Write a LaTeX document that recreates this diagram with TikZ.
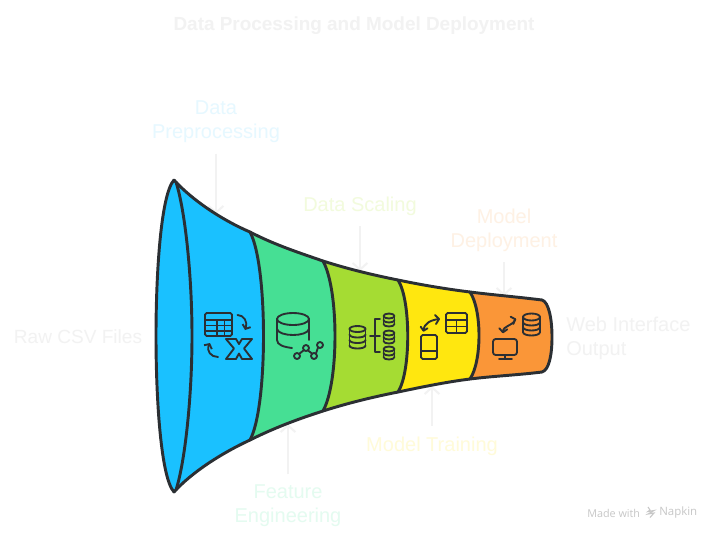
\documentclass[tikz,border=0pt]{standalone}
\usepackage{fontspec}
\setmainfont{Liberation Sans}
\newfontfamily\wmfont{Open Sans}
\usetikzlibrary{arrows.meta}
\definecolor{cBlue}{HTML}{1AC1FF}
\definecolor{cGreen}{HTML}{46DF94}
\definecolor{cLime}{HTML}{A5DC33}
\definecolor{cYellow}{HTML}{FFE70F}
\definecolor{cOrange}{HTML}{FA9638}
\definecolor{cInk}{HTML}{2B2F33}
\definecolor{cConn}{HTML}{F2F2F2}
\definecolor{tBlue}{HTML}{E6F8FF}
\definecolor{tGreen}{HTML}{E4FBF0}
\definecolor{tLime}{HTML}{F2FBDD}
\definecolor{tYellow}{HTML}{FFFBD9}
\definecolor{tOrange}{HTML}{FEF1E4}
\tikzset{
  outline/.style={draw=cInk,line width=2.2pt,line join=round,line cap=round},
  iconline/.style={draw=cInk,line width=1.4pt,line join=round,line cap=round},
  iconarrow/.style={iconline,-{Straight Barb[length=2.6pt,width=6.5pt,line width=1.4pt]}},
  conn/.style={draw=cConn,line width=1.5pt,shorten <=8pt,-{Straight Barb[length=5pt,width=11pt,line width=1.5pt]}},
  lbl/.style={inner sep=0pt,font=\fontsize{15}{18}\selectfont,align=center},
}
% icon: stacked database; args: cx, top y, rx, ry, band height, bands
\newcommand{\dbstack}[6]{%
  \draw[iconline] (#1,#2) ellipse [x radius=#3,y radius=#4];
  \draw[iconline] ({#1-#3},#2) -- ++(0,{#5*#6});
  \draw[iconline] ({#1+#3},#2) -- ++(0,{#5*#6});
  \foreach \k in {1,...,#6}{
    \draw[iconline] ({#1-#3},{#2+#5*\k}) .. controls ({#1-#3},{#2+#5*\k+1.33*#4}) and ({#1+#3},{#2+#5*\k+1.33*#4}) .. ({#1+#3},{#2+#5*\k});
  }%
}
\begin{document}
\begin{tikzpicture}[x=0.75pt,y=-0.75pt]
\path[fill=white,use as bounding box] (0,0) rectangle (720,540);

% labels
\node[font=\fontsize{14.2}{17}\selectfont\bfseries,text=cConn,inner sep=0pt] (title) at (354,26) {Data Processing and Model Deployment};
\node[lbl,font=\fontsize{14.3}{18}\selectfont,text=cConn] (raw) at (78,337) {Raw CSV Files};
\node[lbl,text=tBlue] (prep) at (216,122) {Data\\Preprocessing};
\node[lbl,text=tGreen] (feat) at (288,506) {Feature\\Engineering};
\node[lbl,text=tLime] (scal) at (360,206) {Data Scaling};
\node[lbl,text=tYellow] (train) at (432,446) {Model Training};
\node[lbl,text=tOrange] (depl) at (504,230) {Model\\Deployment};
\node[lbl,text=cConn,align=left,anchor=west] (web) at (566,338) {Web Interface\\Output};

% connectors
\coordinate (prepEnd) at (216,214);
\coordinate (featEnd) at (288,424);
\coordinate (scalEnd) at (360,271);
\coordinate (trainEnd) at (432,386);
\coordinate (deplEnd) at (504,296);
\draw[conn] (prep) -- (prepEnd);
\draw[conn] (feat) -- (featEnd);
\draw[conn] (scal) -- (scalEnd);
\draw[conn] (train) -- (trainEnd);
\draw[conn] (depl) -- (deplEnd);

% funnel fills, right to left
\fill[cOrange] (470,292) .. controls (494,295) and (518,297) .. (542,300)
  .. controls (549,302) and (552,320) .. (552,337)
  .. controls (552,355) and (549,370) .. (542,372)
  .. controls (518,375) and (494,376) .. (470,379) -- cycle;
\fill[cYellow] (398,280) .. controls (422,285) and (446,289) .. (470,292)
  .. controls (482,310) and (482,361) .. (470,379)
  .. controls (446,382) and (422,387) .. (398,392) -- cycle;
\fill[cLime] (323,261) .. controls (348,269) and (373,275) .. (398,280)
  .. controls (411,300) and (411,372) .. (398,392)
  .. controls (373,397) and (348,403) .. (323,411) -- cycle;
\fill[cGreen] (250,232) .. controls (275,245) and (300,253) .. (323,261)
  .. controls (339,290) and (339,382) .. (323,411)
  .. controls (298,419) and (274,428) .. (250,440) -- cycle;
\fill[cBlue] (174,180) .. controls (192,200) and (222,220) .. (250,232)
  .. controls (268,265) and (268,407) .. (250,440)
  .. controls (222,453) and (192,472) .. (174,492)
  .. controls (161,478) and (156,400) .. (156,336)
  .. controls (156,272) and (161,194) .. (174,180) -- cycle;

% funnel strokes
\draw[outline] (174,180) .. controls (192,200) and (222,220) .. (250,232)
  .. controls (275,245) and (300,253) .. (323,261)
  .. controls (348,269) and (373,275) .. (398,280)
  .. controls (422,285) and (446,289) .. (470,292)
  .. controls (494,295) and (518,297) .. (542,300)
  .. controls (549,302) and (552,320) .. (552,337)
  .. controls (552,355) and (549,370) .. (542,372)
  .. controls (518,375) and (494,376) .. (470,379)
  .. controls (446,382) and (422,387) .. (398,392)
  .. controls (373,397) and (348,403) .. (323,411)
  .. controls (298,419) and (274,428) .. (250,440)
  .. controls (222,453) and (192,472) .. (174,492)
  .. controls (161,478) and (156,400) .. (156,336)
  .. controls (156,272) and (161,194) .. (174,180);
\draw[outline] (176,182) .. controls (185,210) and (192,275) .. (192,336)
  .. controls (192,397) and (185,462) .. (176,490);
\draw[outline] (250,232) .. controls (268,265) and (268,407) .. (250,440);
\draw[outline] (323,261) .. controls (339,290) and (339,382) .. (323,411);
\draw[outline] (398,280) .. controls (411,300) and (411,372) .. (398,392);
\draw[outline] (470,292) .. controls (482,310) and (482,361) .. (470,379);

% icon: blue segment
\draw[iconline,rounded corners=1.2pt] (205,313) rectangle (232,336);
\draw[iconline] (205,320) -- (232,320) (205,325.5) -- (232,325.5) (205,331) -- (232,331) (217,320) -- (217,336) (224.5,320) -- (224.5,336);
\draw[iconarrow] (237.5,315) .. controls (244,315) and (248,322) .. (245,330);
\draw[iconarrow] (218,357) .. controls (211,357) and (206,351) .. (210,343);
\draw[iconline] (226,339) -- (236,339) -- (239,344) -- (242,339) -- (252,339) -- (244,348.5) -- (252,359) -- (242,359) -- (239,353.5) -- (236,359) -- (226,359) -- (234,348.5) -- cycle;

% icon: green segment
\draw[iconline] (293,319) ellipse [x radius=16,y radius=6];
\draw[iconline] (277,319) -- (277,340) .. controls (277,345) and (284,347) .. (292,348);
\draw[iconline] (309,319) -- (309,340);
\draw[iconline] (277,329) .. controls (279,337) and (307,337) .. (309,329);
\foreach \cx/\cy in {297/356,306/348,314/356,320/345}{\draw[iconline] (\cx,\cy) circle [radius=3];}
\draw[iconline] (299,354) -- (304,350) (308,350.5) -- (312,353.5) (316,353.5) -- (318,347.5);

% icon: lime segment
\dbstack{357.5}{329}{8}{3}{5.5}{3}
\draw[iconline] (370,336) -- (375,336);
\draw[iconline] (380,319) -- (375,319) -- (375,352) -- (380,352);
\draw[iconline] (375,336) -- (380,336);
\dbstack{389}{316}{5.5}{2.5}{4}{2}
\dbstack{389}{333}{5.5}{2.5}{4}{2}
\dbstack{389}{349}{5.5}{2.5}{4}{2}

% icon: yellow segment
\draw[iconline,rounded corners=1.2pt] (446,313) rectangle (467,333);
\draw[iconline] (446,320) -- (467,320) (446,326.5) -- (467,326.5) (456.5,320) -- (456.5,333);
\draw[iconline,rounded corners=1.2pt] (421,335) rectangle (437,359);
\draw[iconline] (421,351) -- (437,351);
\draw[iconline] (423.5,330.5) .. controls (424,323) and (431,320) .. (439,319);
\draw[iconline] (420.7,326.7) -- (423.5,330.7) -- (427.5,328.3);
\draw[iconline] (435,315) -- (439,319) -- (436,324);

% icon: orange segment
\dbstack{531.5}{317}{8.5}{3.5}{5}{3}
\draw[iconline,rounded corners=2pt] (493,339) rectangle (517,355);
\draw[iconline] (505,355) -- (505,359) (499,359) -- (512,359);
\draw[iconline] (503,332) .. controls (503,325) and (512,327) .. (515.3,319.3);
\draw[iconline] (499.3,328.3) -- (503,332.3) -- (507.3,329.3);
\draw[iconline] (510.7,316.7) -- (515.3,319.3) -- (513.3,324);

% watermark
\node[inner sep=0pt,anchor=west,font=\wmfont\fontsize{8.1}{10}\selectfont,text=black!22] (wmA) at (587,513) {Made with};
\node[inner sep=0pt,anchor=west,font=\wmfont\fontsize{8.6}{10}\selectfont,text=black!22] (wmB) at (659,513) {Napkin};
\draw[black!22,line width=0.8pt] (648,507) -- (650,510) -- (648,511.5) -- (654,510.5) -- (648,514) -- (654,513) -- (650,517.5);
\end{tikzpicture}
\end{document}
